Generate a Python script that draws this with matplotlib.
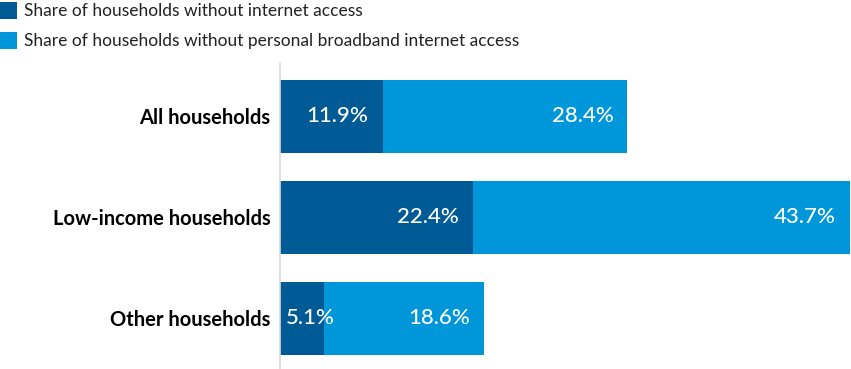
"""
Stacked horizontal bars: households without internet / broadband access
"""
import matplotlib
matplotlib.use('Agg')
import matplotlib.pyplot as plt
from matplotlib.patches import Rectangle

# ======================================================================================================================
# Data
CATEGORIES = ['All households', 'Low-income households', 'Other households']
NO_INTERNET = [11.9, 22.4, 5.1]
NO_BROADBAND = [28.4, 43.7, 18.6]
SERIES_NAMES = ['Share of households without internet access',
                'Share of households without personal broadband internet access']

DARK = '#005A96'
LIGHT = '#0096DA'
FONT = 'Lato'

# ======================================================================================================================
W, H = 851, 369
fig = plt.figure(figsize=(W / 100, H / 100), dpi=100)
ax = fig.add_axes([280 / W, 0, 1 - 280 / W, (H - 63) / H])

y = list(range(len(CATEGORIES)))
ax.barh(y, NO_INTERNET, height=0.72, color=DARK, linewidth=0)
ax.barh(y, NO_BROADBAND, left=NO_INTERNET, height=0.72, color=LIGHT, linewidth=0)

total_max = max(a + b for a, b in zip(NO_INTERNET, NO_BROADBAND))
ax.set_xlim(0, total_max * 1.002)
ax.set_ylim(2.5, -0.525)

# px per data unit, for label padding
pxPerUnit = (W - 280) / (total_max * 1.002)
pad = 14 / pxPerUnit
valKw = dict(va='center', color='white', fontsize=16, fontweight='medium', family=FONT)

for i, (a, b) in enumerate(zip(NO_INTERNET, NO_BROADBAND)):
    if a * pxPerUnit > 80:
        ax.text(a - pad, i, f'{a}%', ha='right', **valKw)
    else:
        ax.text(6 / pxPerUnit, i, f'{a}%', ha='left', **valKw)
    ax.text(a + b - pad, i, f'{b}%', ha='right', **valKw)

ax.set_yticks(y)
ax.set_yticklabels(CATEGORIES, fontsize=14.5, fontweight='bold', family=FONT, color='black')
ax.tick_params(axis='y', length=0, pad=7)
ax.set_xticks([])
for side in ['top', 'right', 'bottom']:
    ax.spines[side].set_visible(False)
ax.spines['left'].set_color('#d9d9d9')
ax.spines['left'].set_linewidth(1.2)

# legend drawn as figure patches + text
for k, (name, col) in enumerate(zip(SERIES_NAMES, [DARK, LIGHT])):
    yTop = 2 + k * 30
    fig.patches.append(Rectangle((0, 1 - (yTop + 17) / H), 17 / W, 17 / H,
                                 transform=fig.transFigure, color=col, linewidth=0))
    fig.text(24 / W, 1 - (yTop + 9) / H, name, ha='left', va='center', fontsize=12.5,
             family=FONT, color='#222222')

fig.savefig('out.png', dpi=100)
